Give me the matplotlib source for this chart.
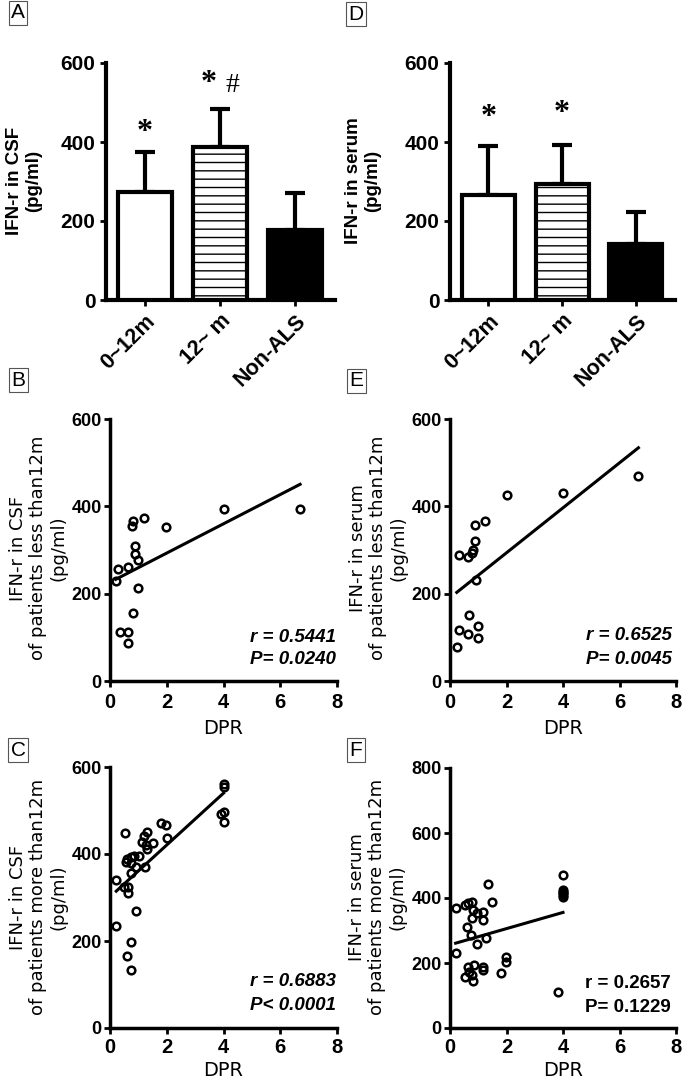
import matplotlib
matplotlib.use('Agg')
import matplotlib.pyplot as plt
import numpy as np

# ---------------- data ----------------
bar_categories = ['0~12m', '12~ m', 'Non-ALS']
csf_means = [274, 388, 177]
csf_sd = [101, 95, 95]
serum_means = [266, 293, 141]
serum_sd = [124, 99, 81]
# significance marks (text, category index, y value)
csf_marks = [('*', 0, 423), ('*', 1, 549), ('#', 1, 542)]
serum_marks = [('*', 0, 461), ('*', 1, 473)]

# B: CSF, patients < 12 m
b_dpr = [4.0, 6.7, 1.2, 0.82, 0.77, 1.99, 0.87, 0.88, 0.99, 0.64, 0.28, 0.2, 0.98, 0.81, 0.34, 0.65, 0.65]
b_ifn = [395, 395, 373, 367, 356, 352, 310, 290, 278, 261, 257, 228, 212, 156, 112, 112, 86]
b_fit = (33.5, 226.0)

# E: serum, patients < 12 m
e_dpr = [6.67, 4.0, 2.0, 1.24, 0.88, 0.88, 0.82, 0.77, 0.65, 0.33, 0.91, 0.67, 1.0, 0.32, 0.65, 1.0, 0.24]
e_ifn = [470, 430, 425, 366, 358, 320, 300, 293, 285, 289, 231, 151, 125, 116, 107, 99, 78]
e_fit = (51.5, 190.6)

# C: CSF, patients > 12 m
c_dpr = [4.0, 4.0, 4.0, 3.91, 4.0, 1.8, 1.97, 1.32, 0.53, 1.2, 2.0, 1.5, 1.26, 1.14, 1.32,
         1.02, 0.85, 0.73, 0.61, 0.58, 0.73, 0.91, 1.23, 0.75, 0.22, 0.49, 0.65, 0.65, 0.93,
         0.22, 0.75, 0.59, 0.73]
c_ifn = [560, 553, 497, 492, 474, 472, 467, 451, 449, 441, 437, 425, 421, 428, 411,
         396, 396, 394, 388, 382, 379, 371, 369, 356, 340, 325, 325, 311, 270,
         235, 198, 166, 133]
c_fit = (59.6, 301.5)

# F: serum, patients > 12 m
f_dpr = [4.0, 4.0, 4.0, 4.0, 4.0, 4.0, 1.33, 1.47, 0.2, 0.53, 0.65, 0.79, 0.82, 0.79, 0.94,
         1.18, 1.18, 0.61, 0.73, 1.27, 0.96, 0.2, 1.97, 1.98, 0.86, 0.65, 1.18, 1.18,
         1.79, 0.53, 0.77, 0.82, 3.83, 0.67]
f_ifn = [471, 426, 420, 414, 408, 402, 443, 389, 368, 378, 384, 389, 363, 338, 353,
         358, 332, 310, 286, 276, 258, 232, 219, 204, 194, 187, 189, 178,
         168, 158, 163, 145, 112, 173]
f_fit = (24.9, 256.0)

W, H = 682, 1083
fig = plt.figure(figsize=(W / 100, H / 100), dpi=100)
plt.rcParams['font.family'] = ['Liberation Sans', 'DejaVu Sans']
plt.rcParams['hatch.linewidth'] = 1.0


def fx(p):
    return p / W


def fy(p):
    return 1 - p / H


def add_axes(l, t, r, b):
    return fig.add_axes([fx(l), fy(b), fx(r) - fx(l), (b - t) / H])


def style_axes(ax, lw):
    for s in ['top', 'right']:
        ax.spines[s].set_visible(False)
    for s in ['left', 'bottom']:
        ax.spines[s].set_linewidth(lw)
    ax.tick_params(width=2, length=4, direction='out')


def bar_panel(ax, means, sds, marks):
    x = np.arange(len(bar_categories))
    bars = ax.bar(x, means, width=0.72, color=['white', 'white', 'black'],
                  edgecolor='black', linewidth=3, zorder=3)
    bars[1].set_hatch('--')
    ax.errorbar(x, means, yerr=[np.zeros(len(x)), sds], fmt='none', ecolor='black',
                elinewidth=3, capsize=7.2, capthick=3, zorder=2)
    ax.set_xlim(-0.52, 2.53)
    ax.set_ylim(0, 600)
    ax.set_yticks([0, 200, 400, 600])
    ax.set_xticks(x)
    ax.set_xticklabels(bar_categories, rotation=45, ha='right', rotation_mode='anchor',
                       fontsize=15.5, fontweight='bold')
    for lab in ax.get_yticklabels():
        lab.set_fontsize(15)
        lab.set_fontweight('bold')
    style_axes(ax, 3)
    for txt, i, yv in marks:
        dx = 0.17 if txt == '#' else (-0.15 if any(m[0] == '#' and m[1] == i for m in marks) else 0)
        ax.text(i + dx, yv, txt, ha='center', va='center', fontsize=23 if txt == '*' else 20,
                fontweight='bold' if txt == '*' else 'normal',
                family='Liberation Serif', clip_on=False)


def scatter_panel(ax, xs, ys, fit, ymax, yticks, r_txt, p_txt, italic, ann_px, bottom_row):
    ax.plot(xs, ys, 'o', ms=5.5, mfc='none', mec='black', mew=1.8, clip_on=False, zorder=3)
    xl = np.array([min(xs), max(xs)])
    ax.plot(xl, fit[0] * xl + fit[1], color='black', lw=2.2, zorder=2)
    ax.set_xlim(0, 8)
    ax.set_ylim(0, ymax)
    ax.set_xticks([0, 2, 4, 6, 8])
    ax.set_yticks(yticks)
    for lab in ax.get_yticklabels():
        lab.set_fontsize(13)
        lab.set_fontweight('bold')
    for lab in ax.get_xticklabels():
        lab.set_fontsize(14.5)
        lab.set_fontweight('bold')
    style_axes(ax, 2.5)
    ax.tick_params(axis='y', pad=2)
    if bottom_row:
        ax.tick_params(axis='x', pad=3)
        ax.set_xlabel('DPR', fontsize=14, family='DejaVu Sans', labelpad=3)
    else:
        ax.tick_params(axis='x', pad=5)
        ax.set_xlabel('DPR', fontsize=14, family='DejaVu Sans', labelpad=5)
    style = 'italic' if italic else 'normal'
    xr, y1, y2 = ann_px
    fig.text(fx(xr), fy(y1), r_txt, ha='right', va='center', fontsize=13.5,
             fontweight='bold', style=style)
    fig.text(fx(xr), fy(y2), p_txt, ha='right', va='center', fontsize=13.5,
             fontweight='bold', style=style)


# Panel A
axA = add_axes(106, 63, 335, 300)
bar_panel(axA, csf_means, csf_sd, csf_marks)
fig.text(fx(24), fy(181), 'IFN-r in CSF\n(pg/ml)', rotation=90, ha='center', va='center',
         fontsize=13.5, fontweight='bold', multialignment='center')

# Panel D
axD = add_axes(450, 63, 675, 300)
bar_panel(axD, serum_means, serum_sd, serum_marks)
fig.text(fx(363), fy(181), 'IFN-r in serum\n(pg/ml)', rotation=90, ha='center', va='center',
         fontsize=13.5, fontweight='bold', multialignment='center')

ylab_kw = dict(rotation=90, ha='center', va='center', fontsize=13, family='DejaVu Sans',
               multialignment='center', linespacing=1.15)

# Panel B
axB = add_axes(110, 419, 337, 681)
scatter_panel(axB, b_dpr, b_ifn, b_fit, 600, [0, 200, 400, 600],
              'r = 0.5441', 'P= 0.0240', True, (336, 637, 660), False)
fig.text(fx(38), fy(548), 'IFN-r in CSF\nof patients less than12m\n(pg/ml)', **ylab_kw)

# Panel E
axE = add_axes(450, 419, 676, 681)
scatter_panel(axE, e_dpr, e_ifn, e_fit, 600, [0, 200, 400, 600],
              'r = 0.6525', 'P= 0.0045', True, (672, 636, 660), False)
fig.text(fx(378), fy(548), 'IFN-r in serum\nof patients less than12m\n(pg/ml)', **ylab_kw)

# Panel C
axC = add_axes(110, 767, 337, 1028)
scatter_panel(axC, c_dpr, c_ifn, c_fit, 600, [0, 200, 400, 600],
              'r = 0.6883', 'P< 0.0001', True, (336, 982, 1005), True)
fig.text(fx(38), fy(897), 'IFN-r in CSF\nof patients more than12m\n(pg/ml)', **ylab_kw)

# Panel F
axF = add_axes(450, 768, 676, 1028)
scatter_panel(axF, f_dpr, f_ifn, f_fit, 800, [0, 200, 400, 600, 800],
              'r = 0.2657', 'P= 0.1229', False, (671, 983, 1007), True)
fig.text(fx(377), fy(897), 'IFN-r in serum\nof patients more than12m\n(pg/ml)', **ylab_kw)

# panel letters
for letter, (px, py) in zip('ABCDEF', [(18, 13), (18, 380), (18, 750), (356, 14), (356, 381), (356, 750)]):
    fig.text(fx(px), fy(py), letter, ha='center', va='center', fontsize=15,
             bbox=dict(boxstyle='square,pad=0.12', fc='white', ec='#555555', lw=0.8))

fig.savefig('out.png', dpi=100)
